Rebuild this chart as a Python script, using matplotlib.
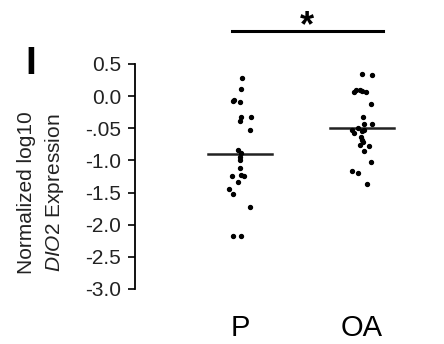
import matplotlib.pyplot as plt

plt.rcParams['font.family'] = ['Liberation Sans', 'DejaVu Sans']
plt.rcParams['mathtext.fontset'] = 'custom'
plt.rcParams['mathtext.rm'] = 'Liberation Sans'
plt.rcParams['mathtext.it'] = 'Liberation Sans:italic'

# data
groups = ['P', 'OA']
p_values = [0.28, 0.11, -0.08, -0.06, -0.09, -0.32, -0.33, -0.39, -0.52, -0.84, -0.88,
            -0.94, -0.99, -1.11, -1.22, -1.24, -1.25, -1.33, -1.44, -1.52, -1.73, -2.18, -2.18]
p_jitter = [0.02, 0.01, -0.06, -0.05, 0.0, 0.01, 0.09, 0.0, 0.08, -0.02, 0.01,
            0.0, 0.0, 0.0, 0.01, 0.03, -0.07, -0.02, -0.09, -0.06, 0.08, -0.06, 0.01]
oa_values = [0.35, 0.33, 0.07, 0.09, 0.10, 0.08, 0.06, -0.12, -0.33, -0.44, -0.44, -0.50, -0.52,
             -0.53, -0.55, -0.58, -0.63, -0.68, -0.71, -0.76, -0.78, -0.86, -1.02, -1.16, -1.19, -1.36]
oa_jitter = [0.0, 0.08, -0.07, -0.05, -0.02, 0.0, 0.03, 0.07, 0.01, 0.02, 0.08, -0.03, -0.08,
             0.02, 0.0, -0.07, -0.01, 0.0, 0.01, -0.02, 0.06, 0.02, 0.07, -0.08, -0.03, 0.04]
medians = [-0.90, -0.50]
yticks = [0.5, 0.0, -0.5, -1.0, -1.5, -2.0, -2.5, -3.0]
ytick_labels = ['0.5', '0.0', '-.05', '-1.0', '-1.5', '-2.0', '-2.5', '-3.0']

fig = plt.figure(figsize=(4.44, 3.44), dpi=100)
ax = fig.add_axes([135 / 444, 55 / 344, 285 / 444, 225 / 344])

ax.scatter([1 + j for j in p_jitter], p_values, s=8, color='black', zorder=3, clip_on=False)
ax.scatter([2 + j for j in oa_jitter], oa_values, s=8, color='black', zorder=3, clip_on=False)

for i, m in enumerate(medians):
    ax.plot([i + 1 - 0.26, i + 1 + 0.26], [m, m], color='#222222', lw=1.8, zorder=2)

# significance bar
ax.plot([0.93, 2.17], [1.02, 1.02], color='black', lw=2.2, clip_on=False)
ax.text(1.55, 0.93, '*', ha='center', va='baseline', fontsize=26, fontweight='bold')

ax.set_xlim(0.139, 2.475)
ax.set_ylim(-3.0, 0.5)
ax.set_yticks(yticks)
ax.set_yticklabels(ytick_labels)
ax.set_xticks([1, 2])
ax.set_xticklabels(groups)
ax.tick_params(axis='x', length=0, pad=18, labelsize=21)
ax.tick_params(axis='y', length=5, width=1.2, pad=5, direction='out', labelsize=15,
               labelcolor='#222222')
for s in ['top', 'right', 'bottom']:
    ax.spines[s].set_visible(False)
ax.spines['left'].set_linewidth(1.3)

fig.text(27 / 444, 1 - 193 / 344, 'Normalized log10', rotation=90, ha='center', va='center',
         fontsize=15, color='#222222')
fig.text(55 / 444, 1 - 193 / 344, '$\\mathit{DIO2}$ Expression', rotation=90, ha='center',
         va='center', fontsize=15, color='#222222')
fig.text(31 / 444, 1 - 64 / 344, 'I', ha='center', va='center', fontsize=28, fontweight='bold')

plt.savefig('out.png', dpi=100)
